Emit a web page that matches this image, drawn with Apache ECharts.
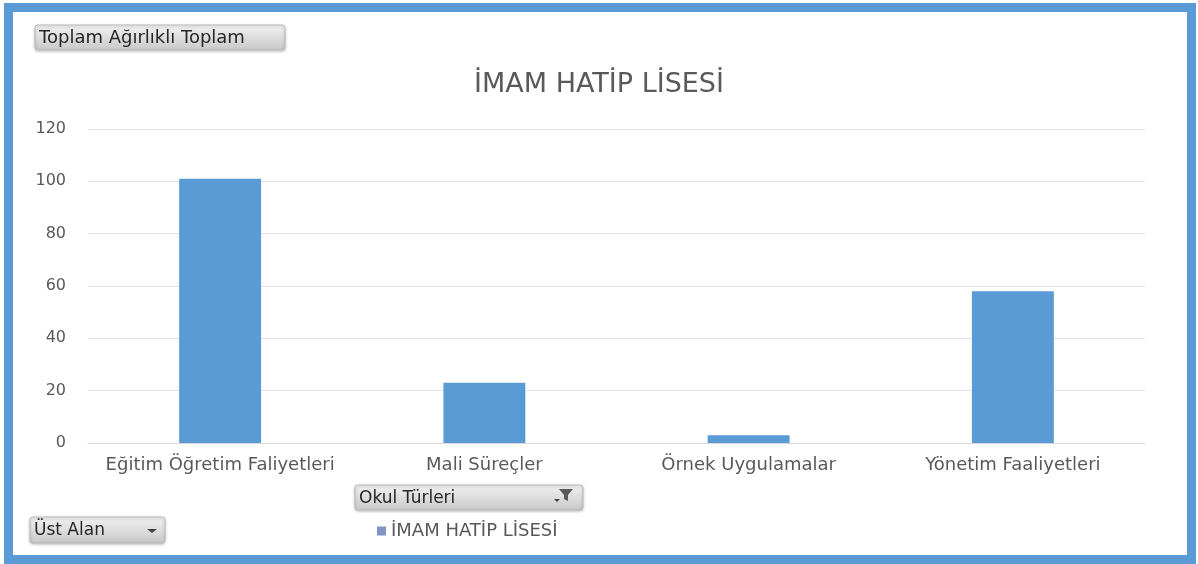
<!DOCTYPE html>
<html>
<head>
<meta charset="utf-8">
<script src="https://cdn.jsdelivr.net/npm/echarts@6/dist/echarts.min.js"></script>
<style>
  html, body { margin: 0; padding: 0; background: #fff; }
  #frame {
    position: absolute; left: 4px; top: 3px;
    width: 1174px; height: 543px;
    border: 9px solid #5b9bd5;
    background: #fff;
  }
  #chart { position: absolute; left: 0; top: 0; width: 1198px; height: 564px; }
</style>
</head>
<body>
<div id="frame"></div>
<div id="chart"></div>
<script>
const categories = ['Eğitim Öğretim Faliyetleri', 'Mali Süreçler', 'Örnek Uygulamalar', 'Yönetim Faaliyetleri'];
const seriesName = 'İMAM HATİP LİSESİ';
const values = [101, 23, 3, 58];

const font = '"DejaVu Sans", "Noto Sans", sans-serif';
const textColor = '#595959';

// gri excel pivot düğmeleri
function pivotButton(x, y, w, h, label, size, extra) {
  const children = [
    {
      type: 'rect',
      shape: { x: 0, y: 0, width: w, height: h, r: 3 },
      style: {
        fill: new echarts.graphic.LinearGradient(0, 0, 0, 1, [
          { offset: 0, color: '#f2f2f2' },
          { offset: 1, color: '#c8c8c8' }
        ]),
        stroke: '#bdbdbd',
        lineWidth: 1,
        shadowBlur: 3,
        shadowColor: 'rgba(0,0,0,0.25)',
        shadowOffsetY: 1
      }
    },
    {
      type: 'text',
      x: 4, y: h / 2 + 1,
      style: { text: label, font: size + 'px ' + font, fill: '#262626', verticalAlign: 'middle' }
    }
  ];
  return { type: 'group', x: x, y: y, children: children.concat(extra || []) };
}

const chart = echarts.init(document.getElementById('chart'));
chart.setOption({
  animation: false,
  title: {
    text: seriesName,
    left: 'center',
    top: 66,
    textStyle: { fontFamily: font, fontSize: 27, fontWeight: 'normal', color: textColor }
  },
  legend: {
    data: [seriesName],
    left: 372,
    top: 517,
    icon: 'rect',
    itemWidth: 9,
    itemHeight: 9,
    itemGap: 5,
    itemStyle: { color: '#7f95c4' },
    textStyle: { fontFamily: font, fontSize: 18, color: textColor }
  },
  grid: { left: 88, right: 53, top: 129, bottom: 121, containLabel: false },
  xAxis: {
    type: 'category',
    data: categories,
    axisLine: { lineStyle: { color: '#d9d9d9' } },
    axisTick: { show: false },
    axisLabel: { interval: 0, fontFamily: font, fontSize: 18, color: textColor, margin: 13 }
  },
  yAxis: {
    type: 'value',
    min: 0, max: 120, interval: 20,
    axisLine: { show: false },
    axisTick: { show: false },
    axisLabel: { fontFamily: font, fontSize: 16, color: textColor, margin: 22 },
    splitLine: { lineStyle: { color: '#e3e3e3' } }
  },
  series: [{
    name: seriesName,
    type: 'bar',
    data: values,
    barWidth: '31%',
    itemStyle: { color: '#5b9bd5' }
  }],
  graphic: [
    pivotButton(35, 25, 250, 25, 'Toplam Ağırlıklı Toplam', 18),
    pivotButton(355, 485, 228, 25, 'Okul Türleri', 17, [
      { type: 'polygon', shape: { points: [[204, 4], [218, 4], [213, 10], [213, 16], [209, 14], [209, 10]] }, style: { fill: '#595959' } },
      { type: 'polygon', shape: { points: [[199, 14], [205, 14], [202, 17]] }, style: { fill: '#404040' } }
    ]),
    pivotButton(30, 517, 135, 26, 'Üst Alan', 17, [
      { type: 'polygon', shape: { points: [[117, 12], [127, 12], [122, 16]] }, style: { fill: '#404040' } }
    ])
  ]
});
</script>
</body>
</html>
